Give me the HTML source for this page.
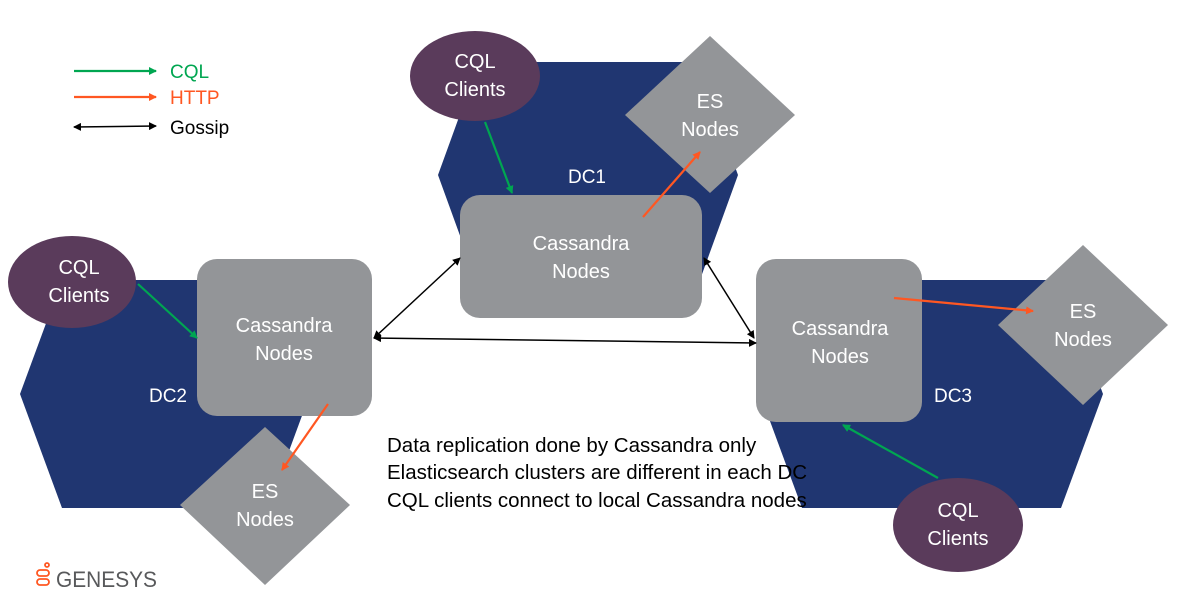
<!DOCTYPE html>
<html><head><style>body{margin:0;background:#fff}</style></head><body>
<svg width="1178" height="600" viewBox="0 0 1178 600" xmlns="http://www.w3.org/2000/svg" font-family="Liberation Sans, sans-serif">
<defs>
<marker id="g" markerWidth="8" markerHeight="8" refX="7" refY="4" orient="auto" markerUnits="userSpaceOnUse"><path d="M0,0L8,4L0,8z" fill="#00a651"/></marker>
<marker id="o" markerWidth="8" markerHeight="8" refX="7" refY="4" orient="auto" markerUnits="userSpaceOnUse"><path d="M0,0L8,4L0,8z" fill="#ff5722"/></marker>
<marker id="k" markerWidth="8" markerHeight="8" refX="7" refY="4" orient="auto-start-reverse" markerUnits="userSpaceOnUse"><path d="M0,0L8,4L0,8z" fill="#000"/></marker>
</defs>
<polygon points="479,62 697,62 738,175 697,288 479,288 438,175" fill="#203671"/>
<polygon points="62,280 268,280 310,394 268,508 62,508 20,394" fill="#203671"/>
<polygon points="802,280 1061,280 1103,394 1061,508 802,508 760,394" fill="#203671"/>
<ellipse cx="475" cy="76" rx="65" ry="45" fill="#5a3b5b"/>
<ellipse cx="72" cy="282" rx="64" ry="46" fill="#5a3b5b"/>
<ellipse cx="958" cy="525" rx="65" ry="47" fill="#5a3b5b"/>
<polygon points="710,36 795,115 710,193 625,115" fill="#939598"/>
<polygon points="265,427 350,505 265,585 180,505" fill="#939598"/>
<polygon points="1083,245 1168,325 1083,405 998,325" fill="#939598"/>
<rect x="460" y="195" width="242" height="123" rx="20" fill="#939598"/>
<rect x="197" y="259" width="175" height="157" rx="20" fill="#939598"/>
<rect x="756" y="259" width="166" height="163" rx="20" fill="#939598"/>
<g fill="#fff" font-size="20" text-anchor="middle">
<text x="475" y="68">CQL</text><text x="475" y="96">Clients</text>
<text x="79" y="274">CQL</text><text x="79" y="302">Clients</text>
<text x="958" y="517">CQL</text><text x="958" y="545">Clients</text>
<text x="710" y="108">ES</text><text x="710" y="136">Nodes</text>
<text x="265" y="498">ES</text><text x="265" y="526">Nodes</text>
<text x="1083" y="318">ES</text><text x="1083" y="346">Nodes</text>
<text x="581" y="250">Cassandra</text><text x="581" y="278">Nodes</text>
<text x="284" y="332">Cassandra</text><text x="284" y="360">Nodes</text>
<text x="840" y="335">Cassandra</text><text x="840" y="363">Nodes</text>
<text x="587" y="183" font-size="19">DC1</text>
<text x="168" y="402" font-size="19">DC2</text>
<text x="953" y="402" font-size="19">DC3</text>
</g>
<g stroke-width="2.2" fill="none">
<line x1="485" y1="122" x2="512" y2="193" stroke="#00a651" marker-end="url(#g)"/>
<line x1="138" y1="284" x2="197" y2="338" stroke="#00a651" marker-end="url(#g)"/>
<line x1="938" y1="478" x2="843" y2="425" stroke="#00a651" marker-end="url(#g)"/>
<line x1="643" y1="217" x2="700" y2="152" stroke="#ff5722" marker-end="url(#o)"/>
<line x1="328" y1="404" x2="282" y2="470" stroke="#ff5722" marker-end="url(#o)"/>
<line x1="894" y1="298" x2="1033" y2="311" stroke="#ff5722" marker-end="url(#o)"/>
<line x1="74" y1="71" x2="156" y2="71" stroke="#00a651" marker-end="url(#g)"/>
<line x1="74" y1="97" x2="156" y2="97" stroke="#ff5722" marker-end="url(#o)"/>
</g>
<g stroke="#000" stroke-width="1.5" fill="none">
<line x1="374" y1="338" x2="460" y2="258" marker-start="url(#k)" marker-end="url(#k)"/>
<line x1="374" y1="338" x2="756" y2="343" marker-start="url(#k)" marker-end="url(#k)"/>
<line x1="704" y1="258" x2="754" y2="338" marker-start="url(#k)" marker-end="url(#k)"/>
<line x1="74" y1="127" x2="156" y2="126" marker-start="url(#k)" marker-end="url(#k)"/>
</g>
<g font-size="19">
<text x="170" y="78" fill="#00a651">CQL</text>
<text x="170" y="104" fill="#ff5722">HTTP</text>
<text x="170" y="134" fill="#000">Gossip</text>
</g>
<g font-size="20.5" fill="#000">
<text x="387" y="452">Data replication done by Cassandra only</text>
<text x="387" y="479">Elasticsearch clusters are different in each DC</text>
<text x="387" y="507">CQL clients connect to local Cassandra nodes</text>
</g>
<g stroke="#ff5722" stroke-width="1.8" fill="none">
<circle cx="47" cy="565" r="2"/>
<rect x="37" y="570" width="12" height="6" rx="3"/>
<rect x="37" y="579" width="12" height="6" rx="3"/>
</g>
<text x="56" y="587" font-size="22" fill="#58595b" textLength="101" lengthAdjust="spacingAndGlyphs">GENESYS</text>
</svg>
</body></html>
